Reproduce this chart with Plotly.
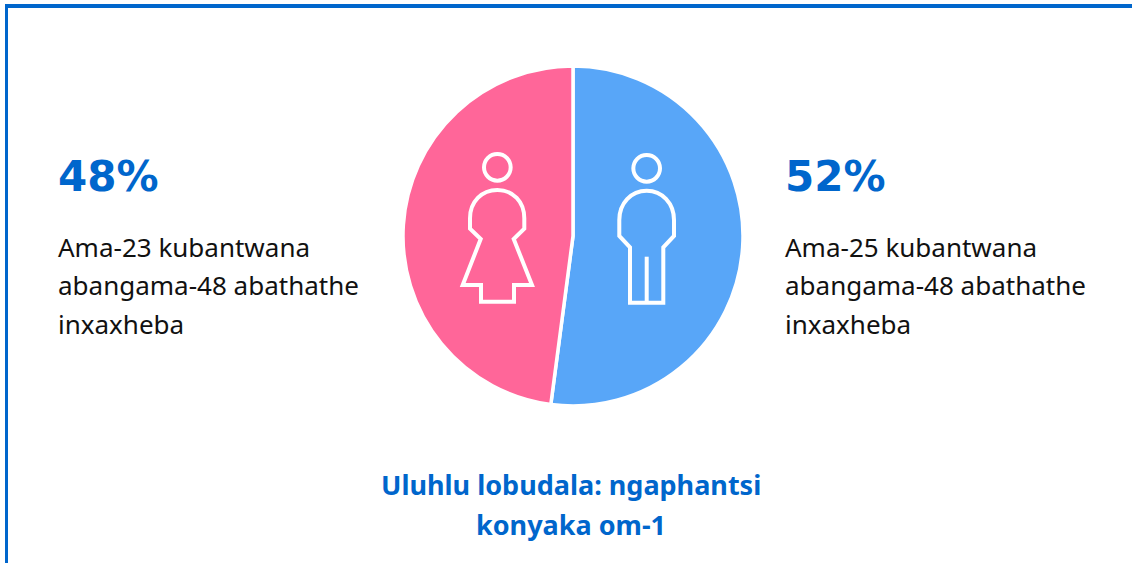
import plotly.graph_objects as go

W, H = 1132, 563
labels = ["Abafana", "Amantombazana"]
counts = [25, 23]
colors = ["#58A6F8", "#FF6699"]
BLUE = "#0066CC"
FONT = "Noto Sans"

left_head = "48%"
right_head = "52%"
left_lines = ["Ama-23 kubantwana", "abangama-48 abathathe", "inxaxheba"]
right_lines = ["Ama-25 kubantwana", "abangama-48 abathathe", "inxaxheba"]
footer = ["Uluhlu lobudala: ngaphantsi", "konyaka om-1"]

fig = go.Figure()
fig.add_trace(go.Pie(
    labels=labels, values=counts, sort=False, direction="clockwise", rotation=0,
    marker=dict(colors=colors, line=dict(color="white", width=3.5)),
    textinfo="none", hoverinfo="skip", showlegend=False,
    domain=dict(x=[403/W, 743/W], y=[1-406/H, 1-66/H]),
))

ann = []
def t(x, y, s, size, color="#111111", bold=False, anchor="left", family=FONT):
    ann.append(dict(x=x, y=y, xref="x", yref="y", text=f"<b>{s}</b>" if bold else s,
                    showarrow=False, xanchor=anchor, yanchor="middle",
                    font=dict(family=family, size=size, color=color)))

t(55.5, 176, left_head, 42, BLUE, True, family="DejaVu Sans")
t(782.5, 176, right_head, 42, BLUE, True, family="DejaVu Sans")
for i, s in enumerate(left_lines):
    t(56, 246.5 + i*38.5, s, 26)
for i, s in enumerate(right_lines):
    t(783, 246.5 + i*38.5, s, 26)
for i, s in enumerate(footer):
    t(571, 484.5 + i*40, s, 27, BLUE, True, "center")

def z(x, y):
    return f"{440 + x/3:.1f} {130 + y/3:.1f}"

woman = (f"M {z(122,327)} L {z(90,296)} L {z(90,265)} "
         f"C {z(90,215)} {z(125,180)} {z(172,180)} C {z(219,180)} {z(253,215)} {z(253,265)} "
         f"L {z(253,296)} L {z(221,327)} L {z(276,465)} L {z(222,465)} L {z(222,515)} "
         f"L {z(123,515)} L {z(123,465)} L {z(68,465)} Z")
man = (f"M {z(538,318)} L {z(538,270)} C {z(538,220)} {z(573,182)} {z(620,182)} "
       f"C {z(667,182)} {z(702,220)} {z(702,270)} L {z(702,318)} L {z(670,352)} "
       f"L {z(670,518)} L {z(570,518)} L {z(570,352)} Z")
legs = f"M {z(620,380)} L {z(620,518)}"

line = dict(color="white", width=4)
shapes = [
    dict(type="path", path=woman, line=line, xref="x", yref="y"),
    dict(type="path", path=man, line=line, xref="x", yref="y"),
    dict(type="path", path=legs, line=line, xref="x", yref="y"),
    dict(type="circle", x0=440+132/3, x1=440+212/3, y0=130+72/3, y1=130+152/3, line=line, xref="x", yref="y"),
    dict(type="circle", x0=440+580/3, x1=440+660/3, y0=130+75/3, y1=130+155/3, line=line, xref="x", yref="y"),
    dict(type="line", x0=5, x1=W, y0=6, y1=6, line=dict(color=BLUE, width=4), xref="x", yref="y"),
    dict(type="line", x0=6.5, x1=6.5, y0=4, y1=H, line=dict(color=BLUE, width=3), xref="x", yref="y"),
]

fig.update_layout(
    width=W, height=H, margin=dict(l=0, r=0, t=0, b=0),
    paper_bgcolor="white", plot_bgcolor="rgba(0,0,0,0)",
    xaxis=dict(range=[0, W], visible=False, fixedrange=True),
    yaxis=dict(range=[H, 0], visible=False, fixedrange=True),
    annotations=ann, shapes=shapes, showlegend=False,
)
fig.write_html("out.html", config=dict(displayModeBar=False),
               post_script="document.body.style.margin='0';document.body.style.overflow='hidden';")
